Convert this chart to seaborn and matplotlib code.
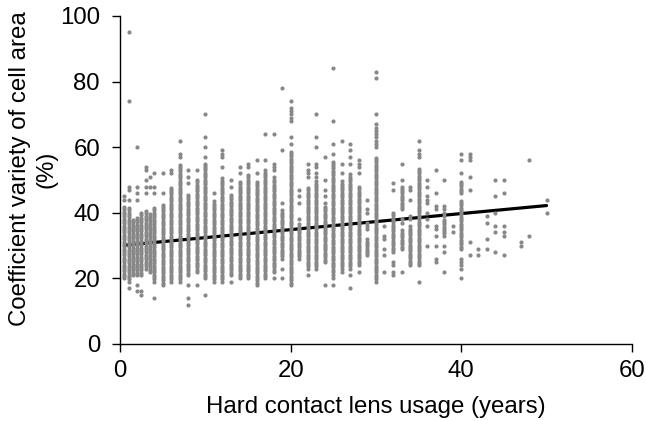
import numpy as np
import pandas as pd
import matplotlib
matplotlib.use("Agg")
import matplotlib.pyplot as plt
import seaborn as sns

# dense columns of points: (year, lowest %, highest %)
run_year = [0.5, 1, 1.5, 2, 2.5, 3, 3.5, 4, 5, 6, 7, 8, 9, 10, 11, 12, 13, 14, 15,
            16, 17, 18, 19, 20, 21, 22, 23, 24, 25, 26, 27, 28, 29, 30, 32, 33, 33,
            34, 35, 38, 40, 40]
run_low = [20, 19, 21, 21, 21, 23, 22, 19, 18, 19, 19, 21, 22, 20, 19, 19, 21, 20, 20,
           18, 20, 22, 26, 18, 26, 23, 23, 25, 22, 23, 23, 24, 27, 19, 28, 29, 41,
           24, 24, 33, 29, 46]
run_high = [42, 42, 38, 39, 40, 41, 40, 42, 43, 48, 55, 46, 50, 55, 44, 51, 46, 50, 52,
            50, 53, 50, 41, 59, 37, 48, 50, 42, 56, 50, 52, 48, 32, 57, 40, 35, 48,
            36, 54, 38, 44, 50]

# isolated points
outlier_years = [0.5, 1, 2, 2.5, 3, 3.5, 4, 5, 6, 7, 8, 9, 10, 11, 12, 13, 14, 15, 16,
                 17, 18, 19, 20, 21, 22, 23, 24, 25, 26, 27, 28, 29, 30, 31, 32, 33, 34,
                 35, 36, 37, 38, 39, 40, 41, 42, 43, 44, 45, 47, 48, 50]
outlier_values = [
    [45, 44], [95, 74, 48, 47, 44, 17], [60, 48, 46, 44, 18, 16], [16, 15],
    [54, 53, 50, 48, 46], [51, 48], [52, 48, 46, 14], [52, 46], [53, 52],
    [62, 58, 57], [53, 51, 49, 18, 14, 12], [53, 18], [70, 63, 60, 57, 15], [46],
    [59, 58, 57, 54], [50, 48, 19], [54, 52], [55, 54], [56, 52], [64, 56],
    [64, 55, 54, 53, 51, 20], [78, 59, 43, 23, 20], [74, 72, 71, 70, 69, 68, 63, 61],
    [47, 45, 43, 38], [55, 53, 52, 51, 21], [70, 63, 60, 55, 54, 52, 51],
    [57, 50, 47, 45, 43, 18], [84, 68, 61, 58, 21, 20, 18], [62, 55, 52, 22],
    [61, 59, 57, 55, 21, 17], [56, 55, 54, 52, 22], [44, 41, 40, 37, 36, 35],
    [83, 81, 70, 67, 66, 65, 64, 63, 62, 61, 60], [36, 33, 32, 29, 27, 22],
    [49, 47, 25, 24, 22, 21], [55, 50, 38, 37, 22], [48, 47, 44, 39, 38],
    [62, 59, 58, 57, 19], [50, 48, 45, 44, 43, 40, 38, 36, 30],
    [53, 46, 42, 41, 36, 35, 33, 30, 26, 25], [50, 42, 41, 40, 39, 30, 28, 22],
    [36, 34], [58, 56, 52, 26, 25, 24, 23, 20], [58, 57, 56, 51, 47, 31, 27],
    [29, 27], [39, 37, 32, 29], [50, 45, 40, 36, 34, 28], [50, 46, 36, 34, 33, 27],
    [31, 30], [56, 33], [44, 40],
]

# fitted trend line end points
trend_x = [0.5, 50]
trend_y = [30.1, 42.2]

xs, ys = [], []
for yr, lo, hi in zip(run_year, run_low, run_high):
    vals = np.arange(lo, hi + 0.01, 0.7)
    xs += [yr] * len(vals)
    ys += list(vals)
for yr, vals in zip(outlier_years, outlier_values):
    xs += [yr] * len(vals)
    ys += vals
df = pd.DataFrame({"years": xs, "cv": ys})

sns.set_style("ticks")
plt.rcParams["font.family"] = ["Liberation Sans", "DejaVu Sans"]
plt.rcParams["text.color"] = "black"
plt.rcParams["axes.labelcolor"] = "black"
plt.rcParams["xtick.color"] = "black"
plt.rcParams["ytick.color"] = "black"

fig = plt.figure(figsize=(6.46, 4.21), dpi=100)
ax = fig.add_axes([0.186, 0.183, 0.792, 0.779])

sns.lineplot(x=trend_x, y=trend_y, ax=ax, color="black", linewidth=2.3, zorder=2)
sns.scatterplot(data=df, x="years", y="cv", ax=ax, color="#888888", s=9,
                linewidth=0, marker="o", zorder=3)

ax.set_xlim(0, 60)
ax.set_ylim(0, 100)
ax.set_xticks([0, 20, 40, 60])
ax.set_yticks([0, 20, 40, 60, 80, 100])
ax.tick_params(labelsize=17.3, length=6, width=1, color="black", labelcolor="black")
ax.tick_params(axis="y", pad=8.5)
ax.tick_params(axis="x", pad=5.5)
ax.set_xlabel("Hard contact lens usage (years)", fontsize=17.3, labelpad=10)
ax.set_ylabel("Coefficient variety of cell area\n(%)", fontsize=17.3,
              linespacing=1.25, labelpad=2)
ax.yaxis.label.set_y(0.534)
sns.despine(ax=ax)
for s in ["left", "bottom"]:
    ax.spines[s].set_linewidth(1.0)
    ax.spines[s].set_color("black")

fig.savefig("out.png", dpi=100)
